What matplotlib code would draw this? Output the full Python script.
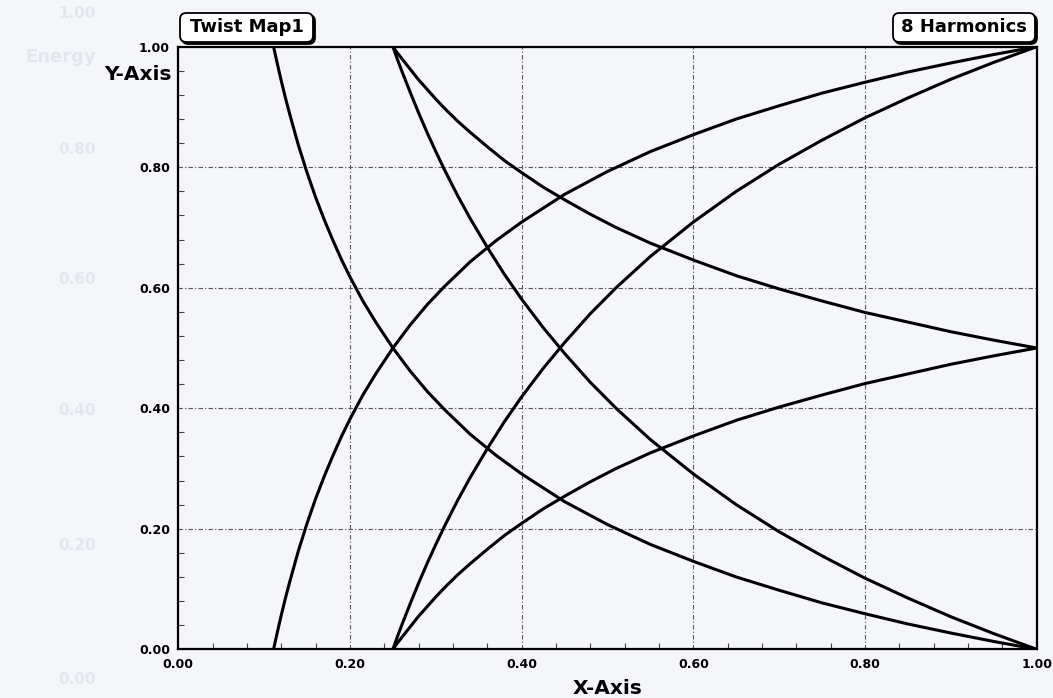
#!/usr/bin/env python3
# Twist Map 1 -- 8 harmonics, redrawn from a scanned plot
import matplotlib
matplotlib.use("Agg")
import matplotlib.pyplot as plt
from matplotlib.ticker import MultipleLocator, FormatStrFormatter
from matplotlib.patches import FancyBboxPatch

# ---- curves ----
A_x  = [0.111,0.115,0.12,0.125,0.13,0.14,0.15,0.16,0.17,0.18,0.19,0.2,0.215,0.23,0.25,0.27,
        0.29,0.31,0.34,0.37,0.4,0.45,0.5,0.55,0.6,0.65,0.7,0.75,0.8,0.85,0.9,0.95,1.0]
A_y  = [1.0,0.974,0.943,0.914,0.887,0.836,0.791,0.75,0.713,0.679,0.647,0.618,0.578,0.543,0.5,0.462,
        0.428,0.398,0.357,0.322,0.291,0.245,0.207,0.174,0.146,0.12,0.098,0.077,0.059,0.042,0.027,0.013,0.0]
A2_y = [0.0,0.026,0.057,0.086,0.113,0.164,0.209,0.25,0.287,0.321,0.353,0.382,0.422,0.457,0.5,0.538,
        0.572,0.602,0.643,0.678,0.709,0.755,0.793,0.826,0.854,0.88,0.902,0.923,0.941,0.958,0.973,0.987,1.0]
B_x  = [0.25,0.255,0.26,0.27,0.28,0.29,0.3,0.31,0.325,0.34,0.36,0.38,0.4,0.425,0.45,0.48,0.51,
        0.55,0.6,0.65,0.7,0.75,0.8,0.85,0.9,0.95,1.0]
B_y  = [1.0,0.98,0.961,0.925,0.89,0.857,0.826,0.796,0.754,0.715,0.667,0.622,0.581,0.534,0.491,0.443,
        0.4,0.348,0.291,0.24,0.195,0.155,0.118,0.085,0.054,0.026,0.0]
B2_y = [0.0,0.02,0.039,0.075,0.11,0.143,0.174,0.204,0.246,0.285,0.333,0.378,0.419,0.466,0.509,0.557,
        0.6,0.652,0.709,0.76,0.805,0.845,0.882,0.915,0.946,0.974,1.0]
C_y  = [0.0,0.01,0.019,0.037,0.055,0.071,0.087,0.102,0.123,0.142,0.166,0.189,0.209,0.233,0.254,0.278,
        0.3,0.326,0.354,0.38,0.402,0.422,0.441,0.457,0.473,0.487,0.5]
D_y  = [1.0,0.99,0.981,0.963,0.945,0.929,0.913,0.898,0.877,0.858,0.834,0.811,0.791,0.767,0.746,0.722,
        0.7,0.674,0.646,0.62,0.598,0.578,0.559,0.543,0.527,0.513,0.5]

CURVES = [(A_x, A_y), (A_x, A2_y), (B_x, B_y), (B_x, B2_y), (B_x, C_y), (B_x, D_y)]
TITLE_L = "Twist Map1"; TITLE_R = "8 Harmonics"
GHOST = [("1.00", 14), ("Energy", 57), ("0.80", 150), ("0.60", 280),
         ("0.40", 410), ("0.20", 545), ("0.00", 680)]
BG = "#f4f6fa"
W, H = 1053, 698

def fx(px): return px / W
def fy(py): return 1 - py / H

def box(fig, x0, x1, y0, y1, txt):
    # drop shadow then rounded white label box, pixel coords from the top-left
    for off, fc in [(2, "black"), (0, "white")]:
        p = FancyBboxPatch((fx(x0 + off), fy(y1 + off)), fx(x1 - x0), (y1 - y0) / H,
                           boxstyle="round,pad=0,rounding_size=0.006",
                           transform=fig.transFigure, fc=fc, ec="black", lw=1.3,
                           mutation_aspect=W / H)
        fig.add_artist(p)
    fig.text(fx((x0 + x1) / 2), fy((y0 + y1) / 2), txt, ha="center", va="center",
             fontsize=13, fontweight="bold")

def main():
    fig = plt.figure(figsize=(W / 100, H / 100), dpi=100, facecolor=BG)
    # faint bleed-through of the facing page
    for t, py in GHOST:
        fig.text(fx(96), fy(py), t, ha="right", va="center", fontsize=13 if t == "Energy" else 11,
                 fontweight="bold", color="#e2e6ee")
    ax = fig.add_axes([fx(178.3), fy(649.3), 858.4 / W, 602.6 / H], facecolor=BG)
    for x, y in CURVES:
        ax.plot(x, y, color="black", lw=2.2, solid_capstyle="round", solid_joinstyle="round")
    ax.set_xlim(0, 1); ax.set_ylim(0, 1)
    ax.xaxis.set_major_locator(MultipleLocator(0.2)); ax.yaxis.set_major_locator(MultipleLocator(0.2))
    ax.xaxis.set_minor_locator(MultipleLocator(0.04)); ax.yaxis.set_minor_locator(MultipleLocator(0.04))
    fmt = FormatStrFormatter("%.2f")
    ax.xaxis.set_major_formatter(fmt); ax.yaxis.set_major_formatter(fmt)
    ax.tick_params(which="major", length=0, pad=6, labelsize=9)
    ax.tick_params(which="minor", direction="in", length=4, width=0.8, color="#444")
    for lab in ax.get_xticklabels() + ax.get_yticklabels():
        lab.set_fontweight("bold")
    ax.grid(True, which="major", color="#555", lw=0.8, ls=(0, (4, 2, 1, 2)))
    for s in ax.spines.values():
        s.set_linewidth(1.6)
    fig.text(fx(607.5), fy(688), "X-Axis", ha="center", va="center", fontsize=14.5, fontweight="bold")
    fig.text(fx(172), fy(75), "Y-Axis", ha="right", va="center", fontsize=14.5, fontweight="bold")
    box(fig, 180, 313, 13, 42, TITLE_L)
    box(fig, 893, 1035, 13, 42, TITLE_R)
    fig.savefig("out.png", dpi=100, facecolor=BG)

if __name__ == "__main__":
    main()
